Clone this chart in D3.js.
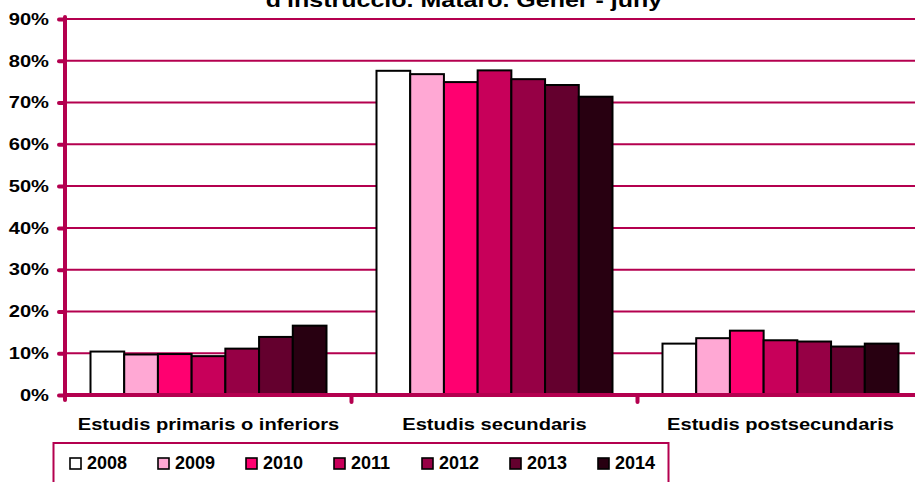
<!DOCTYPE html>
<html>
<head>
<meta charset="utf-8">
<script src="https://cdnjs.cloudflare.com/ajax/libs/d3/7.8.5/d3.min.js"></script>
<style>
	body { margin: 0; background: #fff; }
	svg { display: block; font-family: "Liberation Sans", Arial, sans-serif; font-weight: bold; }
</style>
</head>
<body>
<svg width="915" height="482"></svg>
<script>
var categories = ["Estudis primaris o inferiors", "Estudis secundaris", "Estudis postsecundaris"];
var years = ["2008", "2009", "2010", "2011", "2012", "2013", "2014"];
var colors = ["#ffffff", "#ffa8d4", "#ff0070", "#c8005a", "#960045", "#64002e", "#280011"];
// percentages per year, one value per category
var v2008 = [10.4, 77.6, 12.3];
var v2009 = [9.7, 76.8, 13.6];
var v2010 = [9.8, 74.9, 15.4];
var v2011 = [9.3, 77.7, 13.1];
var v2012 = [11.1, 75.6, 12.8];
var v2013 = [13.9, 74.2, 11.6];
var v2014 = [16.6, 71.4, 12.3];
var yTicks = [0, 10, 20, 30, 40, 50, 60, 70, 80, 90];
var titleText = "d'instrucció. Mataró. Gener - juny";

var series = [v2008, v2009, v2010, v2011, v2012, v2013, v2014];
var crimson = "#b4004f";
var stretch = 1.22; // the original text is drawn a bit wider than the font

var svg = d3.select("svg");
var width = +svg.attr("width");

var x0 = d3.scaleBand().domain(categories).range([65.5, 923.5]);
var x1 = d3.scaleBand().domain(years).range([25, 286 - 25]);
var y = d3.scaleLinear().domain([0, 90]).range([395, 19]);

// title (cut at the top like the original)
svg.append("text")
	.attr("transform", "translate(464,7) scale(" + stretch + ",1)")
	.attr("text-anchor", "middle")
	.attr("font-size", 20.5)
	.text(titleText);

// gridlines
svg.append("g")
	.selectAll("line")
	.data(yTicks.slice(1))
	.enter().append("line")
		.attr("x1", 65)
		.attr("x2", width)
		.attr("y1", function(d) { return y(d); })
		.attr("y2", function(d) { return y(d); })
		.attr("stroke", crimson)
		.attr("stroke-width", 2);

// bars
var group = svg.append("g")
	.selectAll("g")
	.data(categories)
	.enter().append("g")
		.attr("transform", function(d) { return "translate(" + x0(d) + ",0)"; });

group.selectAll("rect")
	.data(function(d, i) { return years.map(function(yr, j) { return { year: yr, value: series[j][i], color: colors[j] }; }); })
	.enter().append("rect")
		.attr("x", function(d) { return x1(d.year); })
		.attr("y", function(d) { return y(d.value); })
		.attr("width", x1.bandwidth())
		.attr("height", function(d) { return y(0) - y(d.value); })
		.attr("fill", function(d) { return d.color; })
		.attr("stroke", "#000")
		.attr("stroke-width", 2);

// y axis
var yAxis = svg.append("g")
	.attr("transform", "translate(65,0)")
	.call(d3.axisLeft(y).tickValues(yTicks).tickSize(6).tickFormat(function(d) { return d + "%"; }));
yAxis.select(".domain").attr("stroke", crimson).attr("stroke-width", 4).attr("stroke-linecap", "round")
	.attr("d", "M0," + (y(90) - 2) + "V" + (y(0) + 5));
yAxis.selectAll(".tick line").attr("stroke", crimson).attr("stroke-width", 4).attr("stroke-linecap", "round");
yAxis.selectAll(".tick text")
	.attr("x", -16 / stretch)
	.attr("transform", "scale(" + stretch + ",1)")
	.attr("font-size", 16.5).attr("fill", "#000").attr("font-weight", "bold")
	.attr("font-family", "Liberation Sans, Arial, sans-serif");

// x axis
var xAxis = svg.append("g")
	.attr("transform", "translate(0,395)")
	.call(d3.axisBottom(x0).tickSize(0).tickPadding(23));
xAxis.select(".domain").attr("stroke", crimson).attr("stroke-width", 4).attr("d", "M63,0H" + width);
xAxis.selectAll(".tick text")
	.attr("transform", "scale(" + stretch + ",1)")
	.attr("font-size", 16.5).attr("fill", "#000").attr("font-weight", "bold")
	.attr("font-family", "Liberation Sans, Arial, sans-serif");

// category separators
svg.append("g")
	.selectAll("line")
	.data(categories.slice(1))
	.enter().append("line")
		.attr("x1", function(d) { return x0(d); })
		.attr("x2", function(d) { return x0(d); })
		.attr("y1", 395)
		.attr("y2", 402)
		.attr("stroke", crimson)
		.attr("stroke-width", 4)
		.attr("stroke-linecap", "round");

// legend
var legend = svg.append("g");
legend.append("rect")
	.attr("x", 53.5)
	.attr("y", 443)
	.attr("width", 615)
	.attr("height", 60)
	.attr("fill", "#fff")
	.attr("stroke", crimson)
	.attr("stroke-width", 2);

var item = legend.selectAll("g")
	.data(years)
	.enter().append("g")
		.attr("transform", function(d, i) { return "translate(" + (70 + i * 88) + ",458)"; });
item.append("rect")
	.attr("x", 0)
	.attr("y", 0)
	.attr("width", 11)
	.attr("height", 11)
	.attr("fill", function(d, i) { return colors[i]; })
	.attr("stroke", "#000")
	.attr("stroke-width", 1.6);
item.append("text")
	.attr("x", 17)
	.attr("y", 11)
	.attr("font-size", 18)
	.text(function(d) { return d; });
</script>
</body>
</html>
